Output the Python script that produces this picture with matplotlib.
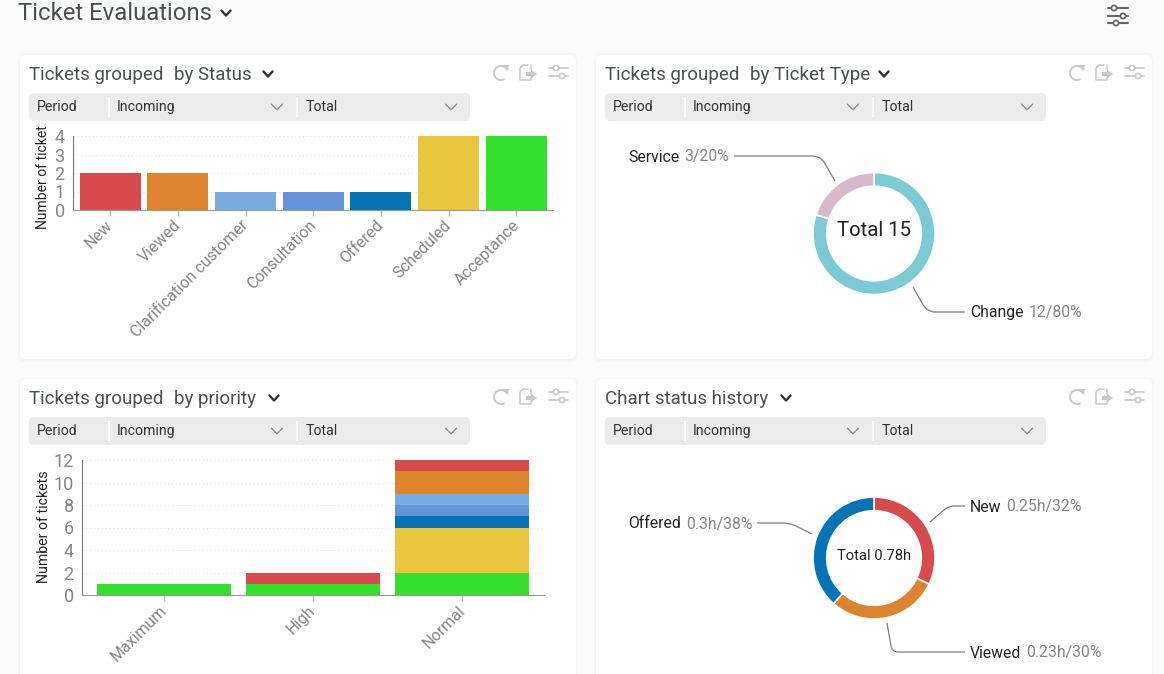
import matplotlib
matplotlib.use("Agg")
import matplotlib.pyplot as plt
from matplotlib.patches import FancyBboxPatch, PathPatch, Circle, Rectangle, Arc, Polygon
from matplotlib.path import Path
from matplotlib.transforms import ScaledTranslation

plt.rcParams['font.family'] = ['Roboto', 'DejaVu Sans']

W, H = 1164, 674

# data
statuses = ['New', 'Viewed', 'Clarification customer', 'Consultation', 'Offered', 'Scheduled', 'Acceptance']
status_counts = [2, 2, 1, 1, 1, 4, 4]
status_colors = ['#d94a4c', '#dc852e', '#7aabdf', '#6493d8', '#0474b5', '#ebc63f', '#34df2e']

priorities = ['Maximum', 'High', 'Normal']
# bottom to top in the stack
stack_order = ['Acceptance', 'Scheduled', 'Offered', 'Consultation', 'Clarification customer', 'Viewed', 'New']
priority_counts = {
    'Acceptance': [1, 1, 2],
    'Scheduled': [0, 0, 4],
    'Offered': [0, 0, 1],
    'Consultation': [0, 0, 1],
    'Clarification customer': [0, 0, 1],
    'Viewed': [0, 0, 2],
    'New': [0, 1, 1],
}

type_values = [12, 3]
type_colors = ['#7ccad4', '#d8b9cc']

history_values = [0.25, 0.23, 0.30]
history_colors = ['#d94a4c', '#dc852e', '#0474b5']

GREY = '#858585'
DARK = '#222222'
TITLE = '#4a4f55'
ICON = '#c9c9c9'

fig = plt.figure(figsize=(W / 100, H / 100), dpi=100, facecolor='#fbfbfb')

# whole figure in pixel coordinates, for cards and texts
bg = fig.add_axes([0, 0, 1, 1], zorder=0)
bg.set_xlim(0, W)
bg.set_ylim(H, 0)
bg.axis('off')


def px_axes(left, top, right, bottom, **kw):
    return fig.add_axes([left / W, 1 - bottom / H, (right - left) / W, (bottom - top) / H],
                        facecolor='none', zorder=2, **kw)


def polyline(xs, ys, color=ICON, lw=1.3):
    bg.plot(xs, ys, color=color, lw=lw, solid_capstyle='round', solid_joinstyle='round', clip_on=True)


def chevron(x, y, w, h, color, lw):
    polyline([x - w, x, x + w], [y - h, y + h, y - h], color, lw)


def sliders(x0, x1, y0, y1, k0, k1, color, lw=1.2, r=2.6):
    for y, k in ((y0, k0), (y1, k1)):
        polyline([x0, x1], [y, y], color, lw)
        bg.add_patch(Circle((k, y), r, fc='white', ec=color, lw=lw, zorder=4))


def card(x0, y0, x1, y1, title1, title2, chev_x):
    for grow, alpha in ((3, 0.006), (2, 0.009), (1, 0.014)):
        bg.add_patch(FancyBboxPatch((x0 - grow, y0 - grow + 1), x1 - x0 + 2 * grow, y1 - y0 + 2 * grow,
                                    boxstyle='round,pad=0,rounding_size=7', fc='black', ec='none', alpha=alpha))
    bg.add_patch(FancyBboxPatch((x0, y0), x1 - x0, y1 - y0, boxstyle='round,pad=0,rounding_size=6',
                                fc='white', ec='none'))
    # title
    bg.text(x0 + 9, y0 + 20, title1, fontsize=13.5, color=TITLE, va='center')
    if title2:
        bg.text(x0 + 154, y0 + 20, title2, fontsize=13.5, color=TITLE, va='center')
    chevron(chev_x, y0 + 19, 4.5, 2.5, '#333333', 1.7)
    # filter bar
    fx = x0 + 9
    bg.add_patch(FancyBboxPatch((fx, y0 + 38), 441, 28, boxstyle='round,pad=0,rounding_size=5',
                                fc='#ebebeb', ec='none'))
    for sep in (79, 267):
        bg.add_patch(Rectangle((fx + sep, y0 + 42), 1.5, 20, fc='white', ec='none'))
    bg.text(fx + 8, y0 + 52, 'Period', fontsize=10.2, color='#333333', va='center')
    bg.text(fx + 88, y0 + 52, 'Incoming', fontsize=10.2, color='#333333', va='center')
    bg.text(fx + 277, y0 + 52, 'Total', fontsize=10.2, color='#333333', va='center')
    chevron(fx + 248, y0 + 52, 5.5, 2.8, '#7a8590', 0.9)
    chevron(fx + 422, y0 + 52, 5.5, 2.8, '#7a8590', 0.9)
    # reload icon
    ix = x1 - 76
    bg.add_patch(Arc((ix + 1, y0 + 18), 14, 14, theta1=-300, theta2=-30, ec=ICON, lw=1.4, zorder=4))
    bg.add_patch(Polygon([[ix + 2, y0 + 10], [ix + 9, y0 + 10], [ix + 8, y0 + 16]], fc=ICON, ec='none', zorder=4))
    # export icon
    ex = x1 - 56
    polyline([ex + 8, ex + 3, ex, ex, ex + 11, ex + 11], [y0 + 10, y0 + 10, y0 + 13, y0 + 25, y0 + 25, y0 + 23], ICON, 1.1)
    polyline([ex + 11, ex + 11], [y0 + 10, y0 + 14], ICON, 1.1)
    bg.add_patch(Polygon([[ex + 6, y0 + 17], [ex + 11, y0 + 17], [ex + 11, y0 + 14.5], [ex + 17, y0 + 19],
                          [ex + 11, y0 + 23.5], [ex + 11, y0 + 21], [ex + 6, y0 + 21]], fc=ICON, ec='none', zorder=4))
    # settings icon
    sliders(x1 - 27, x1 - 8, y0 + 13, y0 + 21, x1 - 20, x1 - 14, ICON)


def leader(p0, a, corner, b, p1):
    # straight run, round the corner, straight run
    verts = [p0, a, corner, b, p1]
    codes = [Path.MOVETO, Path.LINETO, Path.CURVE3, Path.CURVE3, Path.LINETO]
    bg.add_patch(PathPatch(Path(verts, codes), fc='none', ec='#808080', lw=0.9, zorder=3))


def style_bars(ax, labels, yticks, ylab_x, ylab_y, ylabel, ylab_size):
    ax.set_xticks(range(len(labels)))
    ax.set_xticklabels(labels, rotation=45, ha='right', rotation_mode='anchor', fontsize=11.5, color=GREY)
    ax.set_yticks(yticks)
    ax.tick_params(axis='y', length=0, labelsize=13, labelcolor=GREY, pad=6)
    ax.tick_params(axis='x', length=4, width=1, color='#b5b5b5', pad=3)
    # tick_params resets the label transforms, so shift afterwards
    shift = ScaledTranslation(-5 / 100, 2 / 100, fig.dpi_scale_trans)
    for lab in ax.get_xticklabels():
        lab.set_transform(lab.get_transform() + shift)
    ax.grid(axis='y', ls=(0, (1, 3)), color='#dcdcdc', lw=0.7)
    ax.set_axisbelow(True)
    for s in ('top', 'right'):
        ax.spines[s].set_visible(False)
    ax.spines['left'].set_color('#777777')
    ax.spines['bottom'].set_color('#999999')
    bg.text(ylab_x, ylab_y, ylabel, rotation=90, fontsize=ylab_size, color=DARK, ha='center', va='center')


def donut(cx, cy, r, values, colors):
    ax = px_axes(cx - r, cy - r, cx + r, cy + r)
    ax.pie(values, colors=colors, startangle=90, counterclock=False, radius=1,
           wedgeprops={'width': 0.225, 'edgecolor': 'white', 'linewidth': 1.2})
    ax.set_xlim(-1, 1)
    ax.set_ylim(-1, 1)


# page header
bg.text(18, 13.5, 'Ticket Evaluations', fontsize=17.2, color=TITLE, va='center')
chevron(226, 13, 4.5, 2.5, '#333333', 1.7)
for y, k in ((8, 1114), (16, 1123), (23, 1116)):
    polyline([1108, 1128], [y, y], '#666666', 1.5)
    bg.add_patch(Circle((k, y), 2.6, fc='white', ec='#666666', lw=1.3, zorder=4))

card(20, 55, 576, 359, 'Tickets grouped', 'by Status', 268)
card(596, 55, 1152, 359, 'Tickets grouped', 'by Ticket Type', 884)
card(20, 379, 576, 700, 'Tickets grouped', 'by priority', 274)
card(596, 379, 1152, 700, 'Chart status history', '', 786)

# by status
ax1 = px_axes(73, 136, 553, 210)
ax1.bar(range(len(statuses)), status_counts, width=0.9, color=status_colors)
ax1.set_xlim(-0.547, 6.54)
ax1.set_ylim(0, 4)
style_bars(ax1, statuses, [0, 1, 2, 3, 4], 43, 177, 'Number of ticket', 10)

# by priority
ax3 = px_axes(82, 460, 544, 595)
bottoms = [0, 0, 0]
for name in stack_order:
    vals = priority_counts[name]
    ax3.bar(range(len(priorities)), vals, width=0.9, bottom=bottoms,
            color=status_colors[statuses.index(name)])
    bottoms = [b + v for b, v in zip(bottoms, vals)]
ax3.set_xlim(-0.55, 2.55)
ax3.set_ylim(0, 12)
style_bars(ax3, priorities, [0, 2, 4, 6, 8, 10, 12], 44, 527, 'Number of tickets', 10.2)

# by ticket type
donut(874, 233.5, 61, type_values, type_colors)
bg.text(874, 230, 'Total 15', fontsize=14.7, color=DARK, ha='center', va='center')
leader((734, 156), (812, 156), (820, 156), (824, 162), (835, 181))
leader((913, 287), (922, 303), (927, 312), (935, 312), (965, 312))
bg.text(628, 157, 'Service', fontsize=11.3, color=DARK, va='center')
bg.text(684, 157, '3/20%', fontsize=11.3, color=GREY, va='center')
bg.text(970, 312, 'Change', fontsize=11.3, color=DARK, va='center')
bg.text(1029, 312, '12/80%', fontsize=11.3, color=GREY, va='center')

# status history
donut(874, 558, 61, history_values, history_colors)
bg.text(874, 555.5, 'Total 0.78h', fontsize=10.6, color=DARK, ha='center', va='center')
leader((757, 523), (782, 523), (790, 523), (796, 526), (812, 534))
leader((930, 522), (944, 510), (949, 506), (954, 506), (965, 506))
leader((887, 623), (891, 646), (892, 652), (898, 652), (965, 652))
bg.text(628, 524, 'Offered', fontsize=11.3, color=DARK, va='center')
bg.text(686, 524, '0.3h/38%', fontsize=11.3, color=GREY, va='center')
bg.text(970, 507, 'New', fontsize=11.3, color=DARK, va='center')
bg.text(1006, 507, '0.25h/32%', fontsize=11.3, color=GREY, va='center')
bg.text(970, 653, 'Viewed', fontsize=11.3, color=DARK, va='center')
bg.text(1026, 653, '0.23h/30%', fontsize=11.3, color=GREY, va='center')

fig.savefig('out.png', dpi=100, facecolor=fig.get_facecolor())
